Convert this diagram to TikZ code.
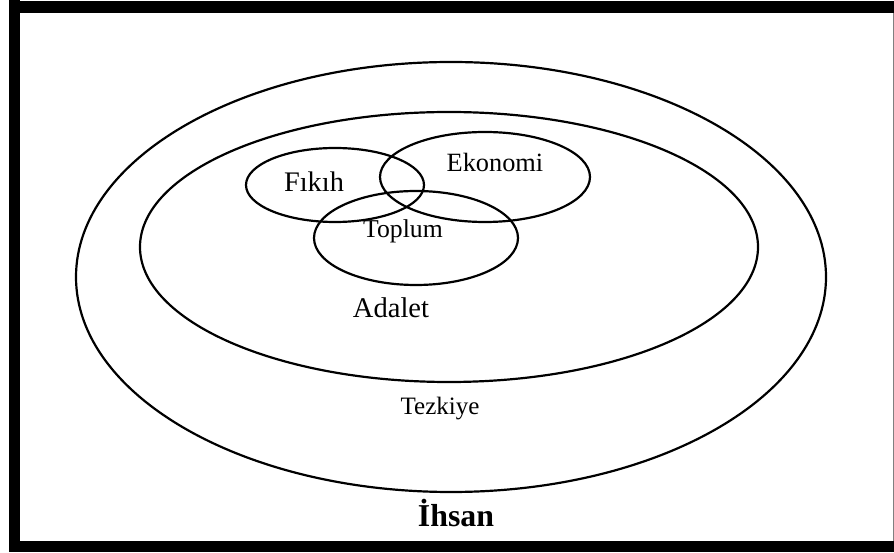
\documentclass[tikz,border=0pt]{standalone}
\usepackage{fontspec}
\setmainfont{Liberation Serif}
\usepackage{tikz}
\usetikzlibrary{positioning}
\tikzset{
  set ring/.style  = {draw, line width=1pt},
  set label/.style = {inner sep=0pt, anchor=base, font=\fontsize{12}{14}\selectfont},
  big label/.style = {set label, font=\fontsize{13}{15}\selectfont},
  main label/.style= {set label, font=\fontsize{14.5}{17}\selectfont\bfseries},
  frame bar/.style = {fill=black},
}

\begin{document}
\begin{tikzpicture}[x=0.016cm, y=0.016cm]
  \useasboundingbox (0,0) rectangle (894,552);

  %% --- frame ------------------------------------------------------
  \fill[frame bar] (9,0) rectangle (20,552);
  \fill[frame bar] (9,539) rectangle (894,551);
  \fill[frame bar] (9,0) rectangle (894,11);
  \fill[gray] (892.5,11) rectangle (894,539);

  %% --- nested sets ------------------------------------------------
  \draw[set ring] (451,275) ellipse [x radius=375, y radius=215];
  \draw[set ring] (449,305) ellipse [x radius=309, y radius=135];

  %% --- three overlapping sets -------------------------------------
  \draw[set ring] (335,367) ellipse [x radius=89,  y radius=37];
  \draw[set ring] (485,375) ellipse [x radius=105, y radius=45];
  \draw[set ring] (416,314) ellipse [x radius=102, y radius=47];

  %% labels
  \node[set label, font=\fontsize{12.9}{15}\selectfont] (fikih) at (314,360) {Fıkıh};
  \node[set label] (ekonomi) at (495,380) {Ekonomi};
  \node[set label, font=\fontsize{11.7}{14}\selectfont] (toplum) at (403,314) {Toplum};
  \node[big label] (adalet)  at (391,234) {Adalet};
  \node[set label, font=\fontsize{11.4}{13}\selectfont] (tezkiye) at (440,137) {Tezkiye};
  \node[main label] (ihsan)  at (456,25) {İhsan};
\end{tikzpicture}
\end{document}
